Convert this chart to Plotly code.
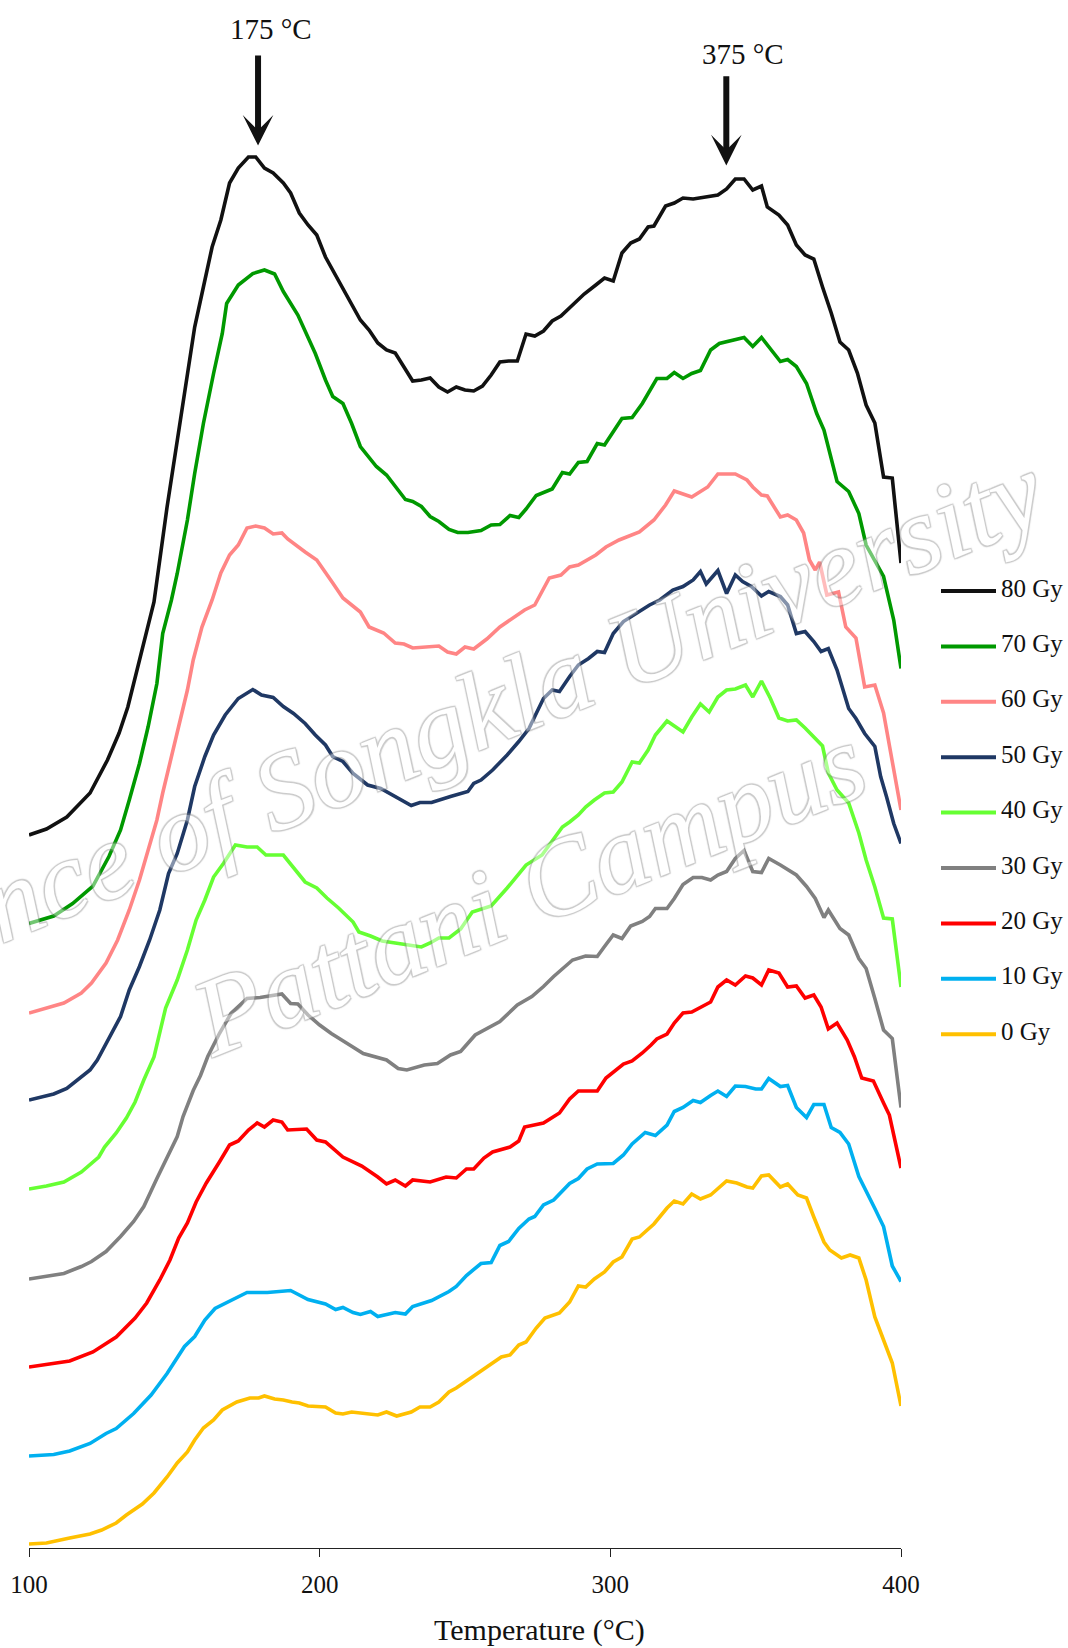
import plotly.graph_objects as go

# Thermoluminescence glow curves, stacked by dose (intensity in a.u.)
OFFSET = 88.5  # vertical shift between successive dose curves

T80 = [100, 106, 113, 116, 121, 127, 131, 134, 137.5, 140.5, 143, 147.5, 151, 154.5, 157, 160, 163, 166, 169, 172,
       175.5, 178, 181, 184, 187.5, 190, 193, 196, 199, 202, 205, 207.5, 210.5, 214, 217, 220, 223, 226, 229, 232,
       235, 238, 241, 244, 247, 250, 253, 256, 259, 262, 265, 268, 271, 274, 277, 280, 283, 287, 291, 295,
       298, 301, 304, 307, 310, 313, 315, 319, 322, 325, 328.5, 337, 340, 343, 346, 349, 352, 354, 358, 361,
       364, 367, 370, 373, 376, 379, 382, 385, 388, 391, 394, 397, 400]
I80 = [5, 11, 23, 32, 47, 80, 107, 133, 173, 210, 238, 333, 400, 467, 513, 553, 593, 620, 657, 672,
       683, 683, 672, 667, 657, 647, 627, 615, 605, 583, 567, 553, 537, 520, 510, 497, 490, 487, 473, 459,
       460, 462, 453, 448, 453, 450, 449, 454, 465, 478, 479, 479, 506, 504, 509, 519, 524, 535, 546, 555,
       562, 559, 587, 597, 601, 613, 614, 634, 637, 642, 641, 645, 651, 661, 661, 650, 654, 633, 625, 615,
       595, 585, 581, 553, 527, 498, 490, 467, 435, 417, 363, 362, 277]

T70 = [100, 108.5, 115, 122, 127.5, 131.5, 134.5, 138, 141, 144, 146, 147.5, 149, 151, 154.5, 157, 160, 163.5, 166.5, 168,
       172, 177, 181, 184.5, 187.5, 192.5, 198.5, 202, 204.5, 208, 211, 214, 219.5, 223, 229.5, 232, 235, 238, 241, 244.5,
       247.5, 251, 255.5, 259, 262, 265.5, 268.5, 271, 274.5, 280, 283.5, 286, 289, 292, 295.5, 298, 304, 307.5, 311, 316,
       319.5, 322, 325, 328, 331, 334.5, 337.5, 346, 349, 352, 358.5, 361, 364, 367.5, 371, 373.5, 378, 382, 385.5, 388,
       391, 394, 397.5, 400]
I70 = [5, 12.5, 25, 42.5, 72, 98.5, 128.5, 165, 202, 245, 295, 312, 328.5, 355, 408.5, 455, 505, 555, 595, 625,
       643.5, 655, 658.5, 654.5, 637, 613.5, 575, 548.5, 532, 525, 505, 482, 462, 453.5, 429, 427, 422, 412, 407, 399,
       396, 396, 398, 403.5, 404, 413, 411, 419.5, 433, 439.5, 456, 454.5, 466, 467, 485, 483.5, 510, 511, 525, 550,
       550, 556, 550, 555, 558, 578.5, 585, 591, 582, 591, 567, 569, 562, 545, 515, 498.5, 447, 437, 415, 383.5,
       367, 352, 308.5, 260]

T60 = [100, 112, 118, 121.5, 126.5, 130.5, 134.5, 138, 141, 144, 146, 149, 152, 154.5, 156.5, 159.5, 163, 166, 169, 172,
       175, 178, 181, 184, 187, 189, 195, 199, 204.5, 208, 214, 217, 222, 226, 229, 232, 241, 244, 247, 250,
       253, 257.5, 262, 265.5, 270.5, 274, 279, 283, 286, 289, 295, 298.5, 303, 310, 315, 319, 322, 328, 333.5, 337,
       343, 347, 349, 352, 354, 358.5, 361, 364, 366.5, 368.5, 370.5, 372, 374.5, 378.5, 381, 384.5, 387.5, 391, 394, 400]
I60 = [4, 14, 24, 34, 54, 77, 107, 137, 167, 197, 224, 260, 297, 327, 357, 390, 417, 444, 462, 472,
       489, 491, 489, 483, 484, 478, 465, 457, 434, 419, 405, 390, 384, 374, 373, 369, 371, 365, 363, 370,
       368, 378, 390, 397, 407, 412, 439, 442, 450, 452, 462, 470, 477, 485, 497, 512, 526, 520, 530, 543,
       543, 537, 530, 522, 521, 500, 502, 497, 484, 457, 447, 455, 422, 425, 390, 379, 330, 332, 304, 207]

T50 = [100, 108.5, 113, 116.5, 121, 123.5, 128, 131.5, 134.5, 138, 141.5, 145, 148, 151, 154.5, 157, 160.5, 163.5, 167.5, 172,
       177, 180, 184, 187.5, 191, 195, 198.5, 202, 204.5, 208, 211.5, 216.5, 221, 227.5, 231.5, 234.5, 238.5, 245, 249, 251,
       253, 255.5, 259.5, 264.5, 268.5, 272, 274.5, 277, 280, 282.5, 286, 289, 292.5, 295.5, 298, 301, 304.5, 308, 311, 313.5,
       317, 321.5, 325, 328.5, 331, 333, 337, 340, 343, 345.5, 348.5, 352, 354.5, 358.5, 361, 364, 367, 370, 372.5, 375,
       378, 382, 384.5, 387.5, 391, 393, 395, 397.5, 400]
I50 = [5.5, 11.5, 17, 25.5, 35.5, 45.5, 69, 89, 115.5, 139, 165.5, 195.5, 232, 252, 285.5, 319, 349, 370.5, 390.5, 407,
       416, 410.5, 408, 399, 392, 382, 370.5, 360.5, 349, 344, 332, 320.5, 317, 307, 300, 303, 303, 309, 312, 314,
       322, 325.5, 335.5, 350.5, 364, 377, 392, 407, 415.5, 414, 429, 440.5, 447, 454, 453, 472, 484, 490.5, 495.5, 500.5,
       505.5, 515.5, 519, 525.5, 534, 521.5, 535, 512, 530.5, 524, 519, 509.5, 514, 509, 500.5, 472, 474, 464, 454, 457,
       435.5, 397, 387, 372, 359, 329, 309, 282, 262]

T40 = [100, 106, 112, 118, 124, 126, 130, 133.5, 136.5, 139.5, 143, 147, 151, 154.5, 157.5, 160.5, 163.5, 167, 171, 175,
       178.5, 181.5, 187.5, 191, 195, 199, 202.5, 206.5, 211.5, 213.5, 217.5, 221.5, 226.5, 231.5, 235, 238, 241, 244.5, 248.5, 252.5,
       256.5, 259, 264.5, 271, 276.5, 279, 283.5, 286, 289, 291.5, 294.5, 298, 301, 304, 307.5, 310, 313, 315.5, 319.5, 325,
       328, 331, 334, 337, 340, 343, 346.5, 349, 352, 355, 358, 361, 364, 367, 370, 373, 375, 378, 382, 385.5,
       388, 391, 394, 397, 400]
I40 = [5, 8, 12, 22, 37, 47, 61, 76, 92, 114, 137, 186, 214, 244, 274, 294, 317, 331, 349, 347,
       347, 339, 339, 327, 312, 306, 296, 286, 272, 262, 258, 253, 251, 249, 247, 251, 256, 256, 265, 282,
       286, 288, 306, 329, 339, 349, 367, 372, 379, 387, 394, 401, 402, 412, 432, 431, 444, 459, 473, 462,
       477, 490, 482, 497, 504, 505, 509, 497, 513, 496, 476, 473, 474, 466, 457, 448, 421, 404, 391, 361,
       334, 307, 276, 275, 207]

T30 = [100, 112, 118, 121.5, 126.5, 131.5, 136, 139.5, 144, 147.5, 151, 153, 156.5, 159, 161.5, 165.5, 169.5, 175, 179.5, 187,
       190, 192.5, 196, 200, 204, 209.5, 215, 223, 227, 230, 236, 240.5, 245, 248.5, 253.5, 262, 268, 273, 277, 280.5,
       287, 291.5, 295.5, 298, 301, 304, 307, 311, 313.5, 315.5, 319.5, 322, 325, 328.5, 331.5, 334.5, 337, 340, 343, 346,
       349, 352, 354.5, 358.5, 361, 364, 367.5, 370.5, 373.5, 375, 379, 382, 385.5, 388, 391, 394, 397, 400]
I30 = [3.5, 9, 16, 21, 31, 46, 61, 76, 104, 126, 146, 166, 192, 207, 226, 249, 269, 284, 285, 288.5,
       279, 278.5, 267.5, 257.5, 249, 239, 229, 222.5, 214, 212.5, 217.5, 219, 227.5, 231, 247.5, 261, 277.5, 286, 296, 306,
       322.5, 326.5, 326, 336, 347.5, 344, 356.5, 361, 366, 374, 374, 384, 398, 405, 405, 402.5, 407.5, 411, 424, 432,
       411, 410, 424, 417.5, 412.5, 407.5, 396, 384, 365, 372.5, 354, 347.5, 324, 314, 284, 252.5, 244, 175]

T20 = [100, 108.5, 114, 122, 130, 136.5, 140.5, 145, 148.5, 151.5, 154.5, 157.5, 161, 165.5, 169, 172, 175.5, 178.5, 181, 184,
       187, 189, 195.5, 199, 202, 208, 211.5, 214.5, 220, 223, 226, 229.5, 232, 238, 243.5, 247, 250.5, 253, 256.5, 259.5,
       265.5, 268.5, 270.5, 277, 282.5, 286, 289, 295.5, 298.5, 301, 304.5, 307.5, 311, 314, 316, 319.5, 322, 325, 328, 334.5,
       337, 340, 343, 346.5, 349, 352, 354.5, 358, 361, 364, 367, 370, 372.5, 375, 378, 381.5, 384, 386.5, 390.5, 394,
       396, 400]
I20 = [4, 8, 10, 19, 34, 53, 68, 91, 111, 133, 148, 169, 188, 209, 226, 230, 241, 248, 244, 251,
       249, 241, 242, 231, 229, 214, 209, 205, 194, 187, 191, 185, 191, 189, 194, 193, 202, 202, 213, 219,
       224, 230, 244, 248, 258, 272, 280, 280, 293, 299, 307, 310, 318, 326, 332, 337, 348, 358, 359, 369,
       384, 391, 386, 395, 393, 386, 401, 398, 384, 385, 373, 376, 364, 342, 348, 331, 314, 293, 290, 268,
       256, 203]

T10 = [100, 108.5, 114, 121, 126.5, 130, 136, 142, 147.5, 153.5, 157, 160.5, 164, 169, 175, 182, 190, 196, 202, 205.5,
       208, 211.5, 214, 217.5, 220, 226, 229.5, 232, 238.5, 244.5, 247, 250.5, 255.5, 259, 262, 265, 268.5, 272, 274, 277,
       280.5, 286, 289, 292, 295.5, 301, 304.5, 307.5, 312, 315.5, 319.5, 322, 325, 328.5, 331, 334.5, 337, 340, 343, 346.5,
       350, 352, 354.5, 358.5, 361, 364, 367.5, 370, 373.5, 376, 379, 382, 385.5, 391, 394, 397, 400]
I10 = [3.5, 5, 8.5, 16, 26, 31, 46, 64.5, 86, 113, 123, 139.5, 151, 158, 167, 167, 169, 160, 155.5, 150,
       152, 147, 145, 148, 143, 147, 145.5, 153, 159, 168, 173, 184, 196, 197, 214, 218, 231, 240.5, 243, 254.5,
       259.5, 276, 281, 290.5, 295.5, 296, 304.5, 315.5, 327, 324, 334.5, 348, 352, 359, 357, 364, 368.5, 363, 373.5, 373,
       370.5, 370.5, 381, 373, 374, 352, 342, 355, 355, 332, 327, 315.5, 283, 251, 233, 193.5, 178]

T0 = [100, 106, 114, 121, 125, 130, 133.5, 139, 143, 147.5, 151, 154.5, 157, 160, 163.5, 166.5, 171.5, 176, 179, 181,
      184.5, 187.5, 190.5, 193, 196, 202, 205.5, 208, 211, 220, 223, 226.5, 231.5, 234.5, 238, 241, 244.5, 247, 251, 255,
      259, 262.5, 265.5, 268.5, 271, 274.5, 277.5, 282.5, 286, 289, 291.5, 294.5, 298, 301, 304, 307.5, 310, 315, 319.5, 322,
      325, 328, 331, 334.5, 340, 343.5, 347, 349, 352, 354.5, 358.5, 361, 364.5, 367.5, 370, 373.5, 375.5, 379.5, 382.5, 385.5,
      388, 391, 394, 397, 400]
I0 = [4, 5, 10, 14, 18, 25, 33, 44, 55, 71, 85, 96, 108, 120, 128, 138, 146, 150, 150, 152,
      149, 148, 146, 145, 142, 141, 135, 134, 136, 133, 136, 132, 136, 141, 141, 146, 156, 160, 168, 176,
      183, 191, 193, 203, 206, 220, 230, 235, 246, 262, 261, 269, 276, 286, 291, 309, 311, 324, 340, 347,
      344, 354, 349, 353, 367, 365, 361, 360, 372, 373, 361, 364, 353, 350, 331, 306, 298, 290, 293, 290,
      268, 231, 208, 185, 142]

DOSE_LABELS = ["80 Gy", "70 Gy", "60 Gy", "50 Gy", "40 Gy", "30 Gy", "20 Gy", "10 Gy", "0 Gy"]
COLORS = ["#111111", "#009900", "#FF8585", "#1F3864", "#66FF33", "#808080", "#FF0000", "#00B0F0", "#FFC000"]
TEMPS = [T80, T70, T60, T50, T40, T30, T20, T10, T0]
INTENS = [I80, I70, I60, I50, I40, I30, I20, I10, I0]
STACK = [8, 7, 6, 5, 4, 3, 2, 1, 0]

PEAK_T = [178.8, 339.9]
PEAK_LABELS = ["175 °C", "375 °C"]

FONT = "Liberation Serif"
Y_TOP = 1548
FIG_H = 1648

fig = go.Figure()
for name, color, t, inten, k in reversed(list(zip(DOSE_LABELS, COLORS, TEMPS, INTENS, STACK))):
    fig.add_trace(go.Scatter(
        x=t, y=[v + k * OFFSET for v in inten], mode="lines", name=name,
        line=dict(color=color, width=3.6), showlegend=False,
    ))

annotations = []
shapes = []

# peak markers: label above a thick downward arrow
arrow_geom = [(1494, 1402.5, 183.2, 1519), (1473.2, 1382.6, 345.6, 1494)]
for tpk, lab, (tail, tip, lx, ly) in zip(PEAK_T, PEAK_LABELS, arrow_geom):
    annotations.append(dict(
        x=tpk, y=tip, ax=tpk, ay=tail, xref="x", yref="y", axref="x", ayref="y",
        text="", showarrow=True, arrowhead=3, arrowwidth=6, arrowsize=0.85,
        arrowcolor="#111111", standoff=0, startstandoff=0,
    ))
    annotations.append(dict(
        x=lx, y=ly, xref="x", yref="y", text=lab, showarrow=False,
        font=dict(family=FONT, size=29, color="#111111"),
        xanchor="center", yanchor="middle",
    ))

# legend drawn at the right of the plotting area
PLOT_L, PLOT_W = 29, 872
for i, (name, color) in enumerate(zip(DOSE_LABELS, COLORS)):
    ypx = 591 + 55.4 * i
    yv = Y_TOP - ypx
    shapes.append(dict(
        type="line", xref="paper", yref="y",
        x0=(941 - PLOT_L) / PLOT_W, x1=(996 - PLOT_L) / PLOT_W, y0=yv, y1=yv,
        line=dict(color=color, width=4),
    ))
    annotations.append(dict(
        x=(999 - PLOT_L) / PLOT_W, y=yv + 3, xref="paper", yref="y",
        text=name, showarrow=False, xanchor="left", yanchor="middle",
        font=dict(family=FONT, size=25, color="#111111"),
    ))

# x-axis title, centred under the whole figure
annotations.append(dict(
    x=(539 - PLOT_L) / PLOT_W, y=(Y_TOP - 1630) / Y_TOP, xref="paper", yref="paper",
    text="Temperature (°C)", showarrow=False, xanchor="center", yanchor="middle",
    font=dict(family=FONT, size=30, color="#111111"),
))

# faint watermark
wm_shadow = ("1.2px 1.2px 1px #8c8c8c, -1.2px -1.2px 1px #8c8c8c, "
             "1.2px -1.2px 1px #8c8c8c, -1.2px 1.2px 1px #8c8c8c")
for txt, xc, yc in [("Prince of Songkla University", 446, 724), ("Pattani Campus", 528, 890)]:
    annotations.append(dict(
        x=(xc - PLOT_L) / PLOT_W, y=Y_TOP - yc, xref="paper", yref="y",
        text=txt, showarrow=False, textangle=-22, opacity=0.45,
        xanchor="center", yanchor="middle",
        font=dict(family=FONT, size=110, color="#ffffff", style="italic", shadow=wm_shadow),
    ))

fig.update_layout(
    width=1068, height=FIG_H,
    margin=dict(l=29, r=167, t=0, b=100),
    paper_bgcolor="white", plot_bgcolor="white",
    showlegend=False,
    annotations=annotations, shapes=shapes,
    xaxis=dict(
        range=[100, 400], tickvals=[100, 200, 300, 400], ticktext=["100", "200", "300", "400"],
        showgrid=False, zeroline=False, showline=True, linecolor="#222222", linewidth=1.3,
        ticks="outside", ticklen=8, tickwidth=1.3, tickcolor="#222222", ticklabelstandoff=6,
        tickfont=dict(family=FONT, size=25, color="#111111"),
    ),
    yaxis=dict(range=[0, Y_TOP], visible=False, showgrid=False, zeroline=False),
)

fig.write_html("out.html")
